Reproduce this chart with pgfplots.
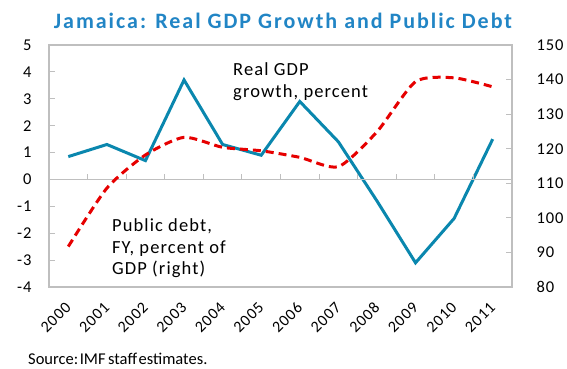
\documentclass[border=0pt]{standalone}
\usepackage{fontspec}
\setmainfont{Carlito}
\newfontfamily\wide{Carlito}[LetterSpace=6]
\newfontfamily\widebold{Carlito}[LetterSpace=9,BoldFont={* Bold}]
\usepackage{pgfplots}
\pgfplotsset{compat=1.18}
\definecolor{gdpblue}{HTML}{0A87AE}
\definecolor{debtred}{HTML}{E60000}
\definecolor{titleblue}{HTML}{2185C5}
\definecolor{axgray}{HTML}{BFBFBF}
\begin{document}
\begin{tikzpicture}[x=1pt,y=1pt]
\useasboundingbox (0,0) rectangle (567,369);
\pgfplotsset{
  base/.style={at={(49pt,82pt)}, anchor=south west, scale only axis,
    width=463pt, height=242pt, xmin=-0.5, xmax=11.5,
    /pgf/number format/assume math mode=true,
    tick label style={font=\wide\fontsize{16.5}{19}\selectfont},
    axis line style={axgray, line width=1.3pt},
    major tick style={axgray, line width=1.1pt},
    major tick length=6pt, tick align=inside,
    clip=false}
}
% left axis: GDP growth
\begin{axis}[base, ymin=-4, ymax=5, ytick={-4,-3,...,5}, ytick pos=left,
  yticklabel shift=14pt,
  xtick={0,1,...,11},
  xticklabels={2000,2001,2002,2003,2004,2005,2006,2007,2008,2009,2010,2011},
  x tick style={draw=none},
  xticklabel style={rotate=45, anchor=east, inner sep=0pt, font=\wide\fontsize{16}{19}\selectfont},
  xticklabel shift=18pt]
\addplot[gdpblue, line width=3pt] coordinates {
 (0,0.85) (1,1.3) (2,0.7) (3,3.7) (4,1.3) (5,0.9) (6,2.9) (7,1.4) (8,-0.8) (9,-3.1) (10,-1.45) (11,1.5)};
\node[anchor=base west, inner sep=0pt, align=left, font=\wide\fontsize{18.5}{22}\selectfont] at (axis cs:4.27,3.04) {Real GDP\\growth, percent};
\node[anchor=base west, inner sep=0pt, align=left, font=\wide\fontsize{18.5}{21.7}\selectfont] at (axis cs:1.13,-3.55) {Public debt,\\FY, percent of\\GDP (right)};
\end{axis}
% zero line with tick marks
\begin{axis}[at={(49pt,189.56pt)}, anchor=south west, scale only axis,
  width=463pt, height=134.44pt, xmin=-0.5, xmax=11.5, ymin=0, ymax=1,
  axis x line=bottom, axis y line=none,
  x axis line style={-, axgray, line width=1.3pt},
  xtick={0.5,1.5,...,10.5}, xticklabels={},
  major tick style={axgray, line width=1.1pt},
  major tick length=5pt, tick align=inside]
\end{axis}
% right axis: public debt
\begin{axis}[base, ymin=80, ymax=150, ytick={80,90,...,150},
  axis y line*=right, axis x line=none,
  yticklabel shift=21pt]
\addplot[debtred, line width=3pt, dash pattern=on 8pt off 5pt, smooth, tension=0.4] coordinates {
 (0,91.7) (1,108.6) (2,118.2) (3,123.3) (4,120.4) (5,119.4) (6,117.5) (7,114.8) (8,124.9) (9,139.4) (10,140.5) (11,137.9)};
\end{axis}
\node[anchor=base, inner sep=0pt, text=titleblue, font=\widebold\fontsize{22}{25}\selectfont\bfseries] at (283,340.7) {Jamaica: Real GDP Growth and Public Debt};
\node[anchor=base west, inner sep=0pt, font=\fontsize{16.5}{19}\selectfont] at (28,4) {Source:\hspace{1.5pt}IMF\hspace{2.5pt}staff\hspace{1.5pt}estimates.};
\end{tikzpicture}
\end{document}
